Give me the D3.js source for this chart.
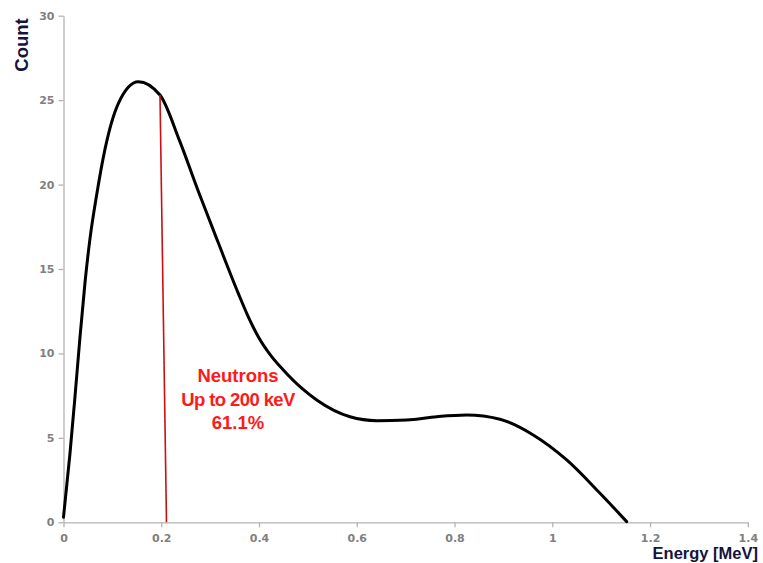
<!DOCTYPE html>
<html>
<head>
<meta charset="utf-8">
<script src="https://cdn.jsdelivr.net/npm/d3@7"></script>
<style>
  html, body { margin: 0; padding: 0; background: #fff; }
  svg { display: block; }
</style>
</head>
<body>
<script>
// ---- data ----
const energy = [0, 0.0133, 0.0235, 0.0338, 0.044, 0.0542, 0.0679, 0.0849, 0.1121, 0.153, 0.1974, 0.2374, 0.2758, 0.3167, 0.3576, 0.3781, 0.3985, 0.4259, 0.4497, 0.4873, 0.518, 0.586, 0.6408, 0.7021, 0.7635, 0.8249, 0.893, 0.961, 1.0295, 1.0976, 1.1522];
const count  = [0.3, 4.09, 7.44, 10.99, 14.2, 16.8, 19.4, 22.1, 24.8, 26.09, 25.30, 22.6, 19.6, 16.55, 13.56, 12.17, 10.99, 9.81, 9.02, 7.94, 7.24, 6.25, 6.02, 6.06, 6.25, 6.35, 6.10, 5.17, 3.69, 1.72, 0.04];
const cutoffLine = [[0.1974, 25.3], [0.2107, 0]];
const xTicks = [0, 0.2, 0.4, 0.6, 0.8, 1, 1.2, 1.4];
const yTicks = [0, 5, 10, 15, 20, 25, 30];
const annotation = ["Neutrons", "Up to 200 keV", "61.1%"];
const xTitle = "Energy [MeV]";
const yTitle = "Count";

const W = 763, H = 563;
const svg = d3.select("body").append("svg").attr("width", W).attr("height", H);

const x = d3.scaleLinear().domain([0, 1.4]).range([63.5, 747.8]);
const y = d3.scaleLinear().domain([0, 30]).range([522.3, 15.7]);

const axisColor = "#b4b4b4";
const tickText = "#808080";

// x axis
const gx = svg.append("g").attr("transform", `translate(0,${y(0)})`)
  .call(d3.axisBottom(x).tickValues(xTicks).tickFormat(d => String(d)).tickSize(5).tickSizeOuter(0));
// y axis
const gy = svg.append("g").attr("transform", `translate(${x(0)},0)`)
  .call(d3.axisLeft(y).tickValues(yTicks).tickSize(5).tickSizeOuter(0));

[gx, gy].forEach(g => {
  g.select(".domain").attr("stroke", axisColor).attr("stroke-width", 1.3);
  g.selectAll(".tick line").attr("stroke", axisColor).attr("stroke-width", 1.3);
  g.selectAll(".tick text")
    .attr("fill", tickText)
    .attr("font-family", "DejaVu Sans")
    .attr("font-weight", "bold")
    .attr("font-size", 11);
});
gx.selectAll(".tick text").attr("dy", "1.1em");
gy.selectAll(".tick text").attr("x", -9);

// curve
const line = d3.line()
  .x((d, i) => x(energy[i]))
  .y((d, i) => y(count[i]))
  .curve(d3.curveMonotoneX);
svg.append("path")
  .datum(count)
  .attr("d", line)
  .attr("fill", "none")
  .attr("stroke", "#000")
  .attr("stroke-width", 3)
  .attr("stroke-linejoin", "round")
  .attr("stroke-linecap", "round");

// red cut-off line
svg.append("line")
  .attr("x1", x(cutoffLine[0][0])).attr("y1", y(cutoffLine[0][1]))
  .attr("x2", x(cutoffLine[1][0])).attr("y2", y(cutoffLine[1][1]))
  .attr("stroke", "#cc1010").attr("stroke-width", 1.6);

// annotation
const ann = svg.append("text")
  .attr("fill", "#ff1a1a")
  .attr("font-family", "Liberation Sans, Arial, sans-serif")
  .attr("font-weight", "bold")
  .attr("font-size", 18.5)
  .attr("text-anchor", "middle");
annotation.forEach((t, i) => {
  ann.append("tspan")
    .attr("x", x(0.357))
    .attr("y", 382 + i * 23.5)
    .attr("letter-spacing", i === 1 ? -0.6 : 0)
    .text(t);
});

// axis titles
svg.append("text")
  .attr("x", 758).attr("y", 559)
  .attr("text-anchor", "end")
  .attr("fill", "#14143c")
  .attr("font-family", "Liberation Sans, Arial, sans-serif")
  .attr("font-weight", "bold")
  .attr("font-size", 16.5)
  .text(xTitle);

svg.append("text")
  .attr("transform", "translate(28,45) rotate(-90)")
  .attr("text-anchor", "middle")
  .attr("fill", "#14143c")
  .attr("font-family", "Liberation Sans, Arial, sans-serif")
  .attr("font-weight", "bold")
  .attr("font-size", 18.5)
  .text(yTitle);
</script>
</body>
</html>
